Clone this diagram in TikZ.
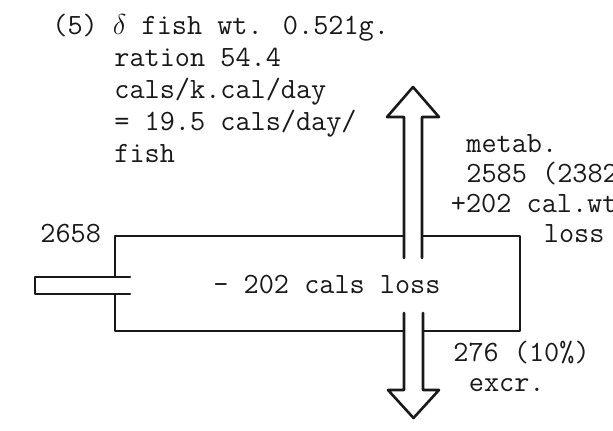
\documentclass[tikz,border=0pt]{standalone}
\tikzset{
  tw/.style={font=\ttfamily\fontsize{14.7}{17}\selectfont, inner sep=0pt, anchor=base west, text=black!90},
  outline/.style={line width=1.3pt, line join=round, line cap=round, draw=black!90},
}
\begin{document}
\begin{tikzpicture}[x=0.5pt,y=-0.5pt]
\useasboundingbox (0,0) rectangle (613,431);
% texts
\node[tw] (t1) at (52,35) {(5) $\delta$ fish wt. 0.521g.};
\node[tw] (t2) at (114,67) {ration 54.4};
\node[tw] (t3) at (114,99) {cals/k.cal/day};
\node[tw] (t4) at (114,131) {= 19.5 cals/day/};
\node[tw] (t5) at (114,163) {fish};
\node[tw] (m1) at (466,153) {metab.};
\node[tw] (m2) at (466,183) {2585 (2382};
\node[tw] (m3) at (450.5,213) {+202 cal.wt};
\node[tw] (m4) at (543.5,243) {loss};
\node[tw] (inp) at (40,243) {2658};
\node[tw] (mid) at (213,294) {- 202 cals loss};
\node[tw] (e1) at (453,361) {276 (10\%)};
\node[tw] (e2) at (468.5,391) {excr.};
% box corners
\coordinate (bTL) at (115,236);
\coordinate (bTR) at (520,236);
\coordinate (bBR) at (520,331);
\coordinate (bBL) at (115,331);
% inlet stub
\draw[outline] (130,277) -- (35,277) -- (35,294) -- (130,294);
% box outline, broken at inlet and arrows
\draw[outline] (115,277) -- (bTL) -- (404,236);
\draw[outline] (422,236) -- (bTR) -- (bBR) -- (423,331);
\draw[outline] (404,331) -- (bBL) -- (115,294);
% upward arrow (metabolism)
\draw[outline] (404,258) -- (404,117) -- (387,117) -- (413,87) -- (439,117) -- (422,117) -- (422,258);
% downward arrow (excretion)
\draw[outline] (404,313) -- (404,390) -- (388,390) -- (413.5,418) -- (439,390) -- (423,390) -- (423,313);
\end{tikzpicture}
\end{document}
